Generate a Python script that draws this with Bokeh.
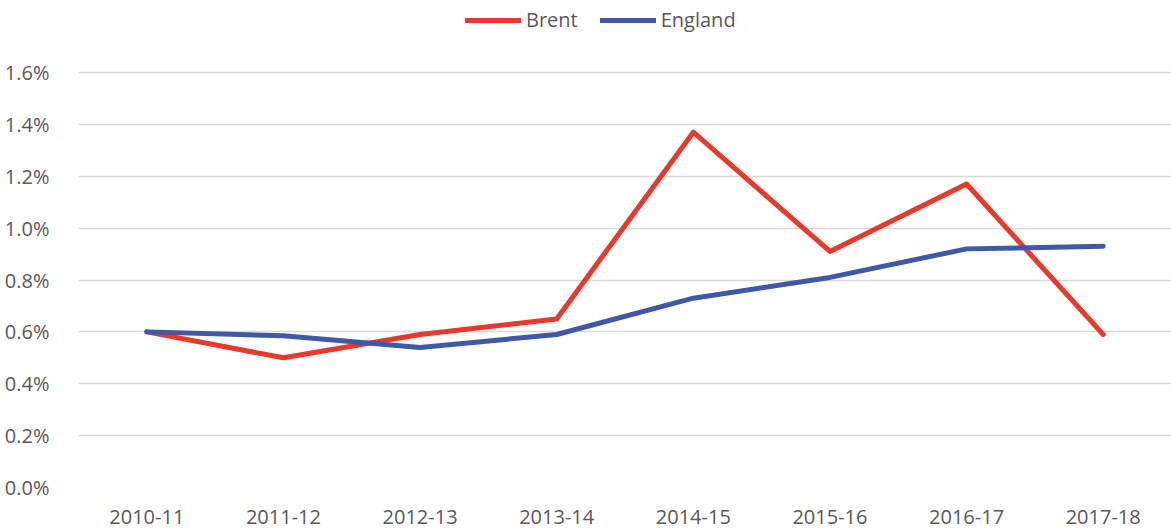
from bokeh.plotting import figure
from bokeh.models import ColumnDataSource, Range1d, NumeralTickFormatter, Legend, LegendItem, FixedTicker
from bokeh.embed import file_html
from bokeh.resources import INLINE

years = ["2010-11", "2011-12", "2012-13", "2013-14", "2014-15", "2015-16", "2016-17", "2017-18"]
brent = [0.0060, 0.0050, 0.0059, 0.0065, 0.0137, 0.0091, 0.0117, 0.0059]
england = [0.0060, 0.00585, 0.0054, 0.0059, 0.0073, 0.0081, 0.0092, 0.0093]
y_ticks = [0.0, 0.002, 0.004, 0.006, 0.008, 0.010, 0.012, 0.014, 0.016]

src = ColumnDataSource(dict(x=years, brent=brent, england=england))

FONT = "Open Sans"
TXT = "#595959"

# frame extends above the top gridline to host the legend (487px frame, 415px for 0..1.6%)
y_top = 0.016 * 487 / 415

p = figure(x_range=years, y_range=Range1d(0, y_top), width=1171, height=532,
           output_backend="svg", toolbar_location=None,
           min_border_left=78, min_border_right=0, min_border_top=0, min_border_bottom=45)
p.outline_line_color = None
p.background_fill_color = "white"

r1 = p.line("x", "brent", source=src, line_color="#E8392A", line_width=5,
            line_join="round", line_cap="round")
r2 = p.line("x", "england", source=src, line_color="#3F58A7", line_width=5,
            line_join="round", line_cap="round")

p.yaxis.ticker = FixedTicker(ticks=y_ticks)
p.yaxis.formatter = NumeralTickFormatter(format="0.0%")
for ax in (p.xaxis[0], p.yaxis[0]):
    ax.axis_line_color = None
    ax.major_tick_line_color = None
    ax.minor_tick_line_color = None
    ax.major_label_text_font = FONT
    ax.major_label_text_font_size = "20px"
    ax.major_label_text_color = TXT
p.yaxis.major_label_standoff = 23
p.xaxis.major_label_standoff = 16

p.xgrid.grid_line_color = None
p.ygrid.grid_line_color = "#D9D9D9"
p.ygrid.grid_line_width = 1.5

legend = Legend(items=[LegendItem(label="Brent", renderers=[r1]),
                       LegendItem(label="England", renderers=[r2])],
                orientation="horizontal", location=(387, 454),
                glyph_width=56, glyph_height=20, label_standoff=5, spacing=22,
                padding=5, margin=0,
                label_text_font=FONT, label_text_font_size="20px", label_text_color=TXT,
                border_line_color=None, background_fill_alpha=0)
p.add_layout(legend, "center")

open("out.html", "w").write(file_html(p, INLINE))
